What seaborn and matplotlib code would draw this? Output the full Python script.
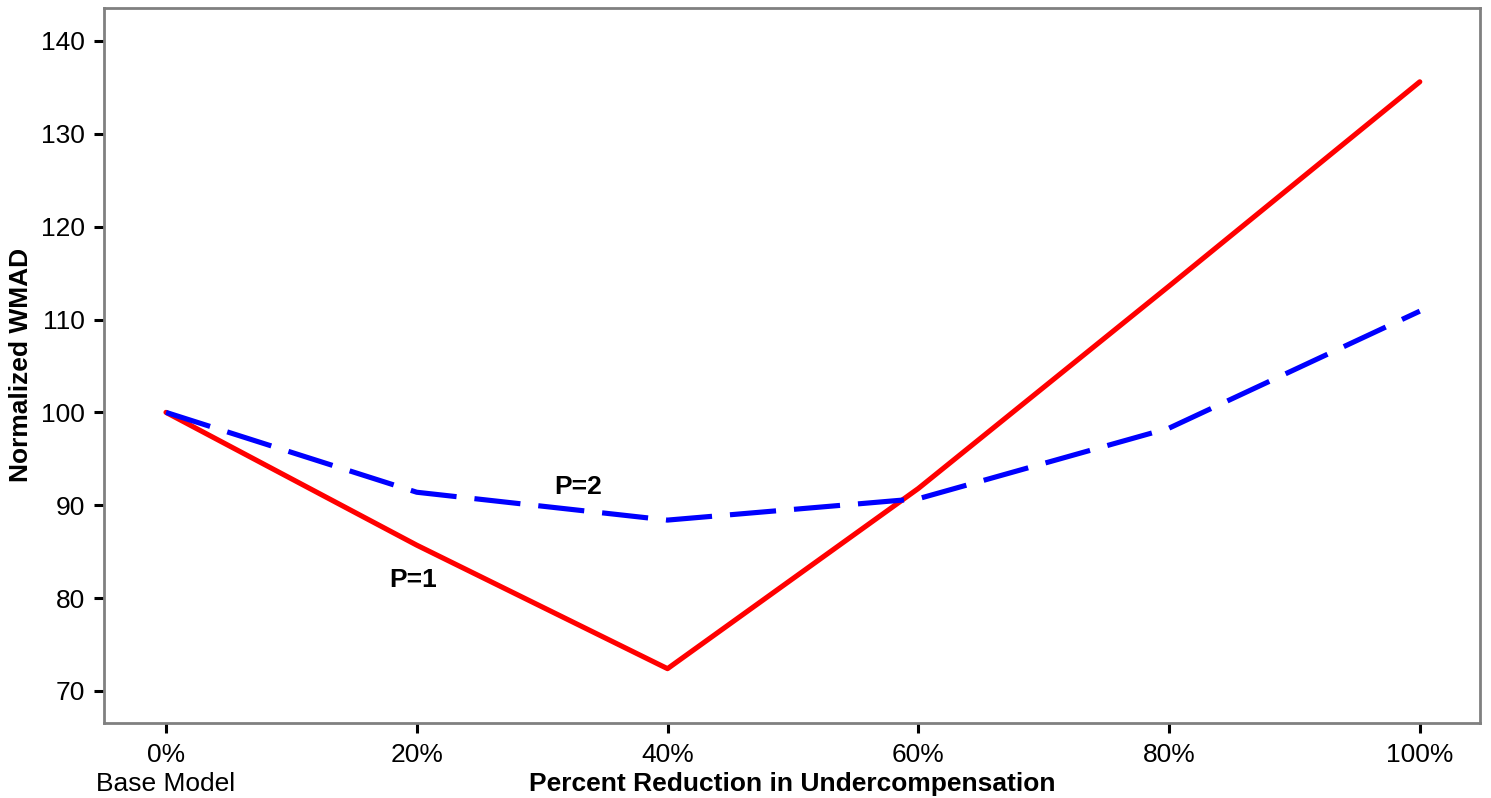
import matplotlib
matplotlib.use("Agg")
import matplotlib.pyplot as plt
import seaborn as sns
import pandas as pd

x_pct = [0, 20, 40, 60, 80, 100]
p1_values = [100.0, 85.7, 72.4, 91.8, 113.6, 135.6]
p2_values = [100.0, 91.4, 88.4, 90.7, 98.3, 110.9]
x_ticklabels = ["0%\nBase Model", "20%", "40%", "60%", "80%", "100%"]
y_ticks = [70, 80, 90, 100, 110, 120, 130, 140]

df = pd.DataFrame({
    "x": x_pct * 2,
    "y": p1_values + p2_values,
    "series": ["P=1"] * len(x_pct) + ["P=2"] * len(x_pct),
})

sns.set_theme(style="white")
plt.rcParams['font.family'] = ['Liberation Sans', 'DejaVu Sans']
plt.rcParams['text.color'] = 'black'
plt.rcParams['axes.labelcolor'] = 'black'
plt.rcParams['xtick.color'] = 'black'
plt.rcParams['ytick.color'] = 'black'

fig = plt.figure(figsize=(14.91, 7.98), dpi=100)
ax = fig.add_axes([0.0698, 0.094, 0.9228, 0.896])

sns.lineplot(data=df, x="x", y="y", hue="series", style="series",
             palette={"P=1": "#ff0000", "P=2": "#0000ff"},
             dashes={"P=1": "", "P=2": (9, 3.5)},
             linewidth=3.7, legend=False, ax=ax, estimator=None, sort=False)

ax.set_xlim(-4.94, 104.8)
ax.set_ylim(66.55, 143.55)
ax.set_xticks(x_pct)
ax.set_xticklabels(x_ticklabels, fontsize=19, linespacing=1.25)
ax.set_yticks(y_ticks)
ax.set_yticklabels([str(v) for v in y_ticks], fontsize=19)
ax.tick_params(axis="both", direction="out", length=7.5, width=2.2, color="black",
               labelcolor="black", left=True, bottom=True)
ax.tick_params(axis="x", pad=7)
ax.tick_params(axis="y", pad=6)
for s in ax.spines.values():
    s.set_color("#808080")
    s.set_linewidth(2)

ax.set_xlabel("Percent Reduction in Undercompensation", fontsize=19, fontweight="bold")
ax.xaxis.set_label_coords(0.5, -0.068)
ax.set_ylabel("Normalized WMAD", fontsize=19, fontweight="bold")
ax.yaxis.set_label_coords(-0.052, 0.501)

ax.text(19.7, 82, "P=1", fontsize=19, fontweight="bold", ha="center", va="center")
ax.text(32.9, 92, "P=2", fontsize=19, fontweight="bold", ha="center", va="center")

fig.savefig("out.png", dpi=100)
